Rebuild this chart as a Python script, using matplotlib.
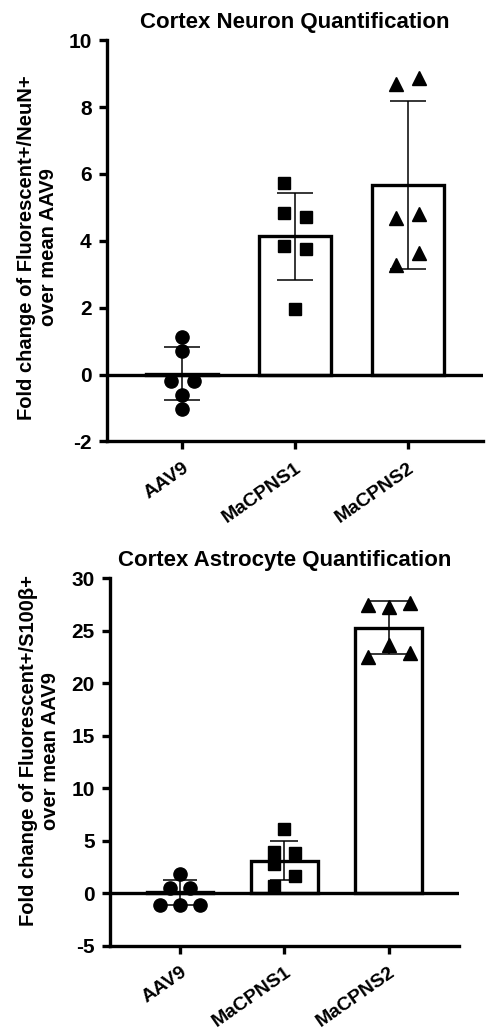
import numpy as np
import matplotlib.pyplot as plt

plt.rcParams['font.family'] = ['Liberation Sans', 'DejaVu Sans']
plt.rcParams['font.weight'] = 'bold'
plt.rcParams['axes.unicode_minus'] = False

groups = ['AAV9', 'MaCPNS1', 'MaCPNS2']

# Cortex neuron panel (fold change of Fluorescent+/NeuN+)
neuron_aav9 = [1.11, 0.71, -0.19, -0.19, -0.62, -1.04]
neuron_macpns1 = [5.72, 4.84, 4.72, 3.84, 3.75, 1.96]
neuron_macpns2 = [8.68, 8.88, 4.67, 4.80, 3.62, 3.29]
neuron_mean = [0.03, 4.13, 5.67]
neuron_sd = [0.80, 1.29, 2.50]

# Cortex astrocyte panel (fold change of Fluorescent+/S100b+)
astro_aav9 = [1.84, 0.54, 0.54, -1.11, -1.11, -1.11]
astro_macpns1 = [6.1, 3.9, 3.8, 2.8, 1.6, 0.7]
astro_macpns2 = [27.5, 27.3, 27.6, 23.65, 22.5, 22.9]
astro_mean = [0.1, 3.1, 25.3]
astro_sd = [1.2, 1.87, 2.52]

# horizontal scatter of the points within each group
neuron_jitter = [[0, 0, -0.1, 0.1, 0, 0],
                 [-0.1, -0.1, 0.1, -0.1, 0.1, 0],
                 [-0.1, 0.1, -0.1, 0.1, 0.1, -0.1]]
astro_jitter = [[0, -0.1, 0.1, -0.19, 0, 0.19],
                [0, -0.1, 0.1, -0.1, 0.1, -0.1],
                [-0.2, 0, 0.2, 0, -0.2, 0.2]]

markers = ['o', 's', '^']
msizes = [9.5, 8.2, 9.5]
LW = 2.4


def draw_panel(ax, points, jitter, mean, sd, title, ylabel, ylim, ystep, capsizes, label_xy):
    x = np.arange(len(groups))
    ax.bar(x, mean, width=0.64, color='white', edgecolor='black', linewidth=LW, zorder=2)
    ax.axhline(0, color='black', linewidth=LW, zorder=3)
    for i in range(len(groups)):
        ax.errorbar(x[i], mean[i], yerr=sd[i], fmt='none', ecolor='black',
                    elinewidth=1.1, capsize=capsizes[i], capthick=1.1, zorder=4)
        ax.plot(x[i] + np.array(jitter[i]), points[i], linestyle='none',
                marker=markers[i], markersize=msizes[i], color='black', zorder=5)

    ax.set_xlim(-0.67, 2.67)
    ax.set_ylim(*ylim)
    ax.set_yticks(np.arange(ylim[0], ylim[1] + ystep / 2, ystep))
    ax.set_xticks(x)
    ax.set_xticklabels(groups, rotation=35, ha='right', va='top', rotation_mode='anchor')
    for s in ['top', 'right']:
        ax.spines[s].set_visible(False)
    for s in ['left', 'bottom']:
        ax.spines[s].set_linewidth(LW)
    ax.tick_params(axis='both', length=6, width=LW, labelsize=15, pad=5)
    ax.tick_params(axis='x', labelsize=14, pad=7)
    ax.set_title(title, fontsize=16, fontweight='bold', pad=9)
    ax.set_ylabel(ylabel, fontsize=14.5, fontweight='bold', linespacing=1.2)
    ax.yaxis.set_label_coords(*label_xy)


fig = plt.figure(figsize=(4.9, 10.29), dpi=100)
ax1 = fig.add_axes([0.218, 0.571, 0.768, 0.390])
ax2 = fig.add_axes([0.2245, 0.081, 0.712, 0.357])

draw_panel(ax1, [neuron_aav9, neuron_macpns1, neuron_macpns2], neuron_jitter,
           neuron_mean, neuron_sd, 'Cortex Neuron Quantification',
           'Fold change of Fluorescent+/NeuN+\nover mean AAV9',
           (-2, 10), 2, [13, 13, 13], (-0.13, 0.484))
draw_panel(ax2, [astro_aav9, astro_macpns1, astro_macpns2], astro_jitter,
           astro_mean, astro_sd, 'Cortex Astrocyte Quantification',
           'Fold change of Fluorescent+/S100\u03b2+\nover mean AAV9',
           (-5, 30), 5, [12, 10, 15], (-0.143, 0.53))

fig.savefig('out.png', dpi=100)
